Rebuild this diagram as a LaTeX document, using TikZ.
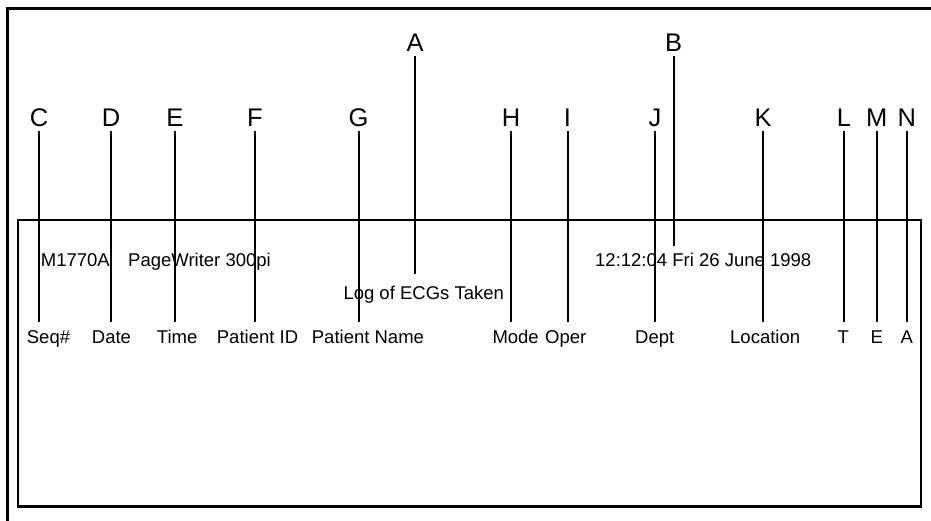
\documentclass[tikz,border=0pt]{standalone}
\usepackage{fontspec}
\setmainfont{Liberation Sans}
\begin{document}
\begin{tikzpicture}[x=1pt,y=-1pt,
  bigletter/.style={font=\fontsize{25.5}{28}\selectfont, inner sep=0pt, anchor=base},
  lbl/.style={font=\fontsize{18.5}{21}\selectfont, inner sep=0pt, anchor=base west},
  lblc/.style={font=\fontsize{18.5}{21}\selectfont, inner sep=0pt, anchor=base},
  leader/.style={line width=2pt},
  frame/.style={line width=3.3pt},
  boxline/.style={line width=2.6pt}]
\useasboundingbox (0,0) rectangle (931,521);
% frames
\draw[frame] (7.7,523) -- (7.7,8.3) -- (933,8.3);
\draw[boxline] (18,220) rectangle (920.8,506.3);
% top letters
\node[bigletter] (A) at (415,51.7) {A};
\node[bigletter] (B) at (673.5,51.7) {B};
\foreach \n/\x in {C/39,D/111,E/175,F/255,G/358.5,H/511,I/567.5,J/655,K/763,L/844,M/876.7,N/906.7}
  \node[bigletter] (\n) at (\x,126.7) {\n};
% labels
\node[lbl] (model) at (40.7,266) {M1770A};
\node[lbl] (pw) at (128,266) {PageWriter 300pi};
\node[lbl] (dt) at (595,266) {12:12:04 Fri 26 June 1998};
\node[lbl] (log) at (343.3,299) {Log of ECGs Taken};
\node[lbl] (seq) at (26.7,343) {Seq\#};
\node[lbl] (date) at (91.7,343) {Date};
\node[lbl] (time) at (156.7,343) {Time};
\node[lbl] (pid) at (216.7,343) {Patient ID};
\node[lbl] (pname) at (311.7,343) {Patient Name};
\node[lbl] (mode) at (492.3,343) {Mode};
\node[lbl] (oper) at (545,343) {Oper};
\node[lbl] (dept) at (635,343) {Dept};
\node[lbl] (loc) at (730,343) {Location};
\node[lblc] (tt) at (843.3,343) {T};
\node[lblc] (ee) at (876.7,343) {E};
\node[lblc] (aa) at (906.7,343) {A};
% leader end points
\coordinate (eA) at (415,274);
\coordinate (eB) at (673.5,246);
\foreach \n in {C,D,E,F,G,H,I,J,K,L,M,N}
  \coordinate (e\n) at (\n.base |- 0,321.5);
% leaders
\draw[leader] ([yshift=-4.5pt]A.base) -- (eA);
\draw[leader] ([yshift=-4.5pt]B.base) -- (eB);
\foreach \n in {C,D,E,F,G,H,I,J,K,L,M,N}
  \draw[leader] ([yshift=-4.5pt]\n.base) -- (e\n);
\end{tikzpicture}
\end{document}
